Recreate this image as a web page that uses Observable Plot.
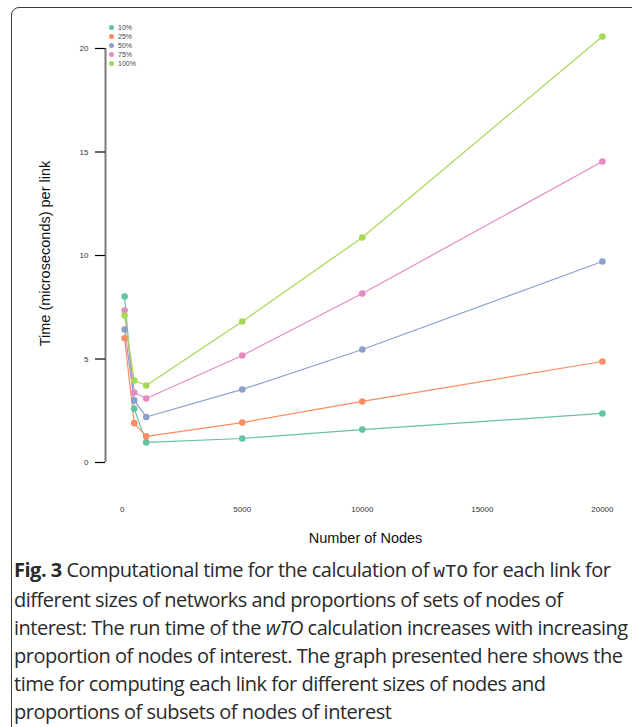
<!DOCTYPE html>
<html><head><meta charset="utf-8">
<script src="https://cdn.jsdelivr.net/npm/d3@7"></script>
<script src="https://cdn.jsdelivr.net/npm/@observablehq/plot@0.6"></script>
<style>
html,body{margin:0;padding:0;background:#fff}
body{width:632px;height:727px;overflow:hidden;position:relative;font-family:"Liberation Sans",Arial,sans-serif}
#frame{position:absolute;left:11px;top:7px;width:700px;height:800px;border:1.3px solid #3c3c3c;border-top-left-radius:8px;box-sizing:border-box}
#chart{position:absolute;left:0;top:0}
#chart svg, #chart svg text{font-family:"Liberation Sans",Arial,sans-serif !important}
#legend{position:absolute;left:109px;top:23px;font-size:7px;line-height:9px;color:#444}
#legend div{display:flex;align-items:center;height:9px}
#legend span.d{display:inline-block;width:5px;height:5px;border-radius:50%;margin-right:4px}
#caption{position:absolute;left:14px;top:556px;font-family:"Open Sans",sans-serif;font-size:20px;line-height:28px;color:#2a2a2a;letter-spacing:-0.5px;white-space:nowrap}
#caption b{font-weight:700}
#caption code{font-family:"Liberation Mono",monospace;font-size:19px;letter-spacing:0}
</style></head>
<body>
<div id="frame"></div>
<div id="chart"></div>
<div id="legend"></div>
<div id="caption"><b>Fig. 3</b> Computational time for the calculation of <code>wTO</code> for each link for<br>different sizes of networks and proportions of sets of nodes of<br>interest: The run time of the <i>wTO</i> calculation increases with increasing<br>proportion of nodes of interest. The graph presented here shows the<br>time for computing each link for different sizes of nodes and<br>proportions of subsets of nodes of interest</div>
<script>
const nodes = [100, 500, 1000, 5000, 10000, 20000];
const seriesNames = ["10%", "25%", "50%", "75%", "100%"];
const t10 = [8.02, 2.60, 0.97, 1.16, 1.59, 2.37];
const t25 = [6.00, 1.90, 1.26, 1.93, 2.95, 4.88];
const t50 = [6.42, 3.00, 2.20, 3.53, 5.46, 9.71];
const t75 = [7.34, 3.38, 3.09, 5.17, 8.16, 14.54];
const t100 = [7.10, 3.96, 3.72, 6.81, 10.87, 20.58];
const colors = ["#66C2A5", "#FC8D62", "#8DA0CB", "#E78AC3", "#A6D854"];
const yTicks = [0, 5, 10, 15, 20];
const xTicks = [0, 5000, 10000, 15000, 20000];

const allSeries = [t10, t25, t50, t75, t100];
const data = [];
seriesNames.forEach((s, i) => nodes.forEach((n, j) => data.push({series: s, nodes: n, time: allSeries[i][j]})));

// R-style 4% axis extension
const xMin = d3.min(nodes), xMax = d3.max(nodes);
const pad = (xMax - xMin) * 0.04;
const xDomain = [xMin - pad, xMax + pad];

const W = 632, H = 560;
const chart = Plot.plot({
  width: W, height: H,
  marginLeft: 105, marginRight: 11, marginTop: 48, marginBottom: H - 462,
  style: {background: "transparent", overflow: "visible"},
  x: {domain: xDomain},
  y: {domain: [0, 20]},
  color: {domain: seriesNames, range: colors},
  marks: [
    Plot.ruleX([xDomain[0]], {y1: 0, y2: 20, stroke: "#7a7a7a", strokeWidth: 2}),
    Plot.axisY({ticks: yTicks, tickSize: 10, tickPadding: 7, fontSize: 8, label: null, stroke: "#000", strokeWidth: 1.2, color: "#333"}),
    Plot.axisX({ticks: xTicks, tickSize: 0, tickPadding: 44, fontSize: 8, label: null, tickFormat: d => String(d), color: "#333"}),
    Plot.line(data, {x: "nodes", y: "time", z: "series", stroke: "series", strokeWidth: 1.2}),
    Plot.dot(data, {x: "nodes", y: "time", fill: "series", r: 3.3, stroke: "none"}),
    Plot.text(["Number of Nodes"], {frameAnchor: "bottom", textAnchor: "middle", dy: 80, dx: 2, fontSize: 14.5, fill: "#111"}),
    Plot.text(["Time (microseconds) per link"], {frameAnchor: "left", textAnchor: "middle", dx: -60, dy: -2, rotate: -90, fontSize: 14.5, fill: "#111"})
  ]
});
document.getElementById("chart").appendChild(chart);

const leg = document.getElementById("legend");
seriesNames.forEach((s, i) => {
  const row = document.createElement("div");
  row.innerHTML = `<span class="d" style="background:${colors[i]}"></span>${s}`;
  leg.appendChild(row);
});
</script>
</body></html>
